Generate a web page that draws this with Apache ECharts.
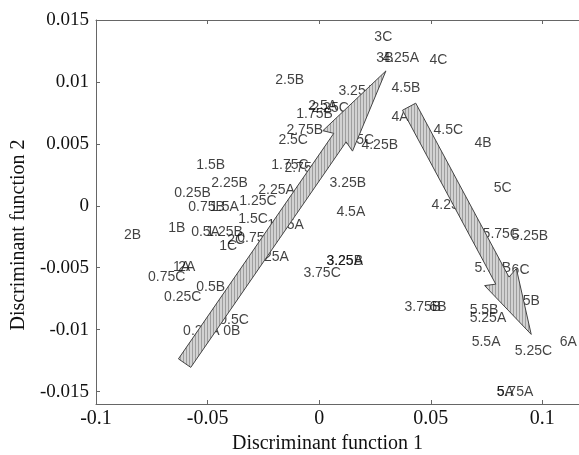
<!DOCTYPE html>
<html>
<head>
<meta charset="utf-8">
<script src="https://cdn.jsdelivr.net/npm/echarts@6/dist/echarts.min.js"></script>
<style>html,body{margin:0;background:#fff}#main{width:579px;height:455px}</style>
</head>
<body>
<div id="main"></div>
<script>
// sample labels (left edge of each label = point)
var pointLabels = ['2.5B', '1.75B', '2.5A', '2.25C', '2.75B', '2.5C', '1.75C', '2.75A', '1.5B', '2.25B',
    '0.25B', '2.25A', '1.25C', '0.75B', '1.5A', '1.5C', '1.75A', '1B', '2B', '0.5A',
    '1.25B', '1C', '2C', '0.75A', '1.25A', '1A', '2A', '0.75C', '0.5B', '0.25C',
    '0.5C', '0.25A', '0B', '3C', '3B', '4.25A', '4C', '4.5B', '3.25A', '4A',
    '4.5C', '4B', '3.5C', '4.25B', '5C', '3.25B', '4.5A', '4.25C', '5.75C', '5.25B',
    '3.25A', '3.25B', '3.75C', '5.75B', '6C', '5B', '3.75B', '6B', '5.5B', '5.25A',
    '5.5A', '5.25C', '6A', '5A', '5.75A'];
var dfOne = [-0.0199, -0.0105, -0.0051, -0.0037, -0.0149, -0.0185, -0.0217, -0.0158, -0.0553, -0.0486,
    -0.0652, -0.0275, -0.0360, -0.0589, -0.0491, -0.0365, -0.0235, -0.0679, -0.0877, -0.0576,
    -0.0508, -0.0450, -0.0414, -0.0369, -0.0302, -0.0657, -0.0634, -0.0769, -0.0553, -0.0697,
    -0.0450, -0.0612, -0.0432, 0.0245, 0.0254, 0.0281, 0.0492, 0.0322, 0.0084, 0.0322,
    0.0510, 0.0694, 0.0111, 0.0187, 0.0780, 0.0044, 0.0075, 0.0501, 0.0730, 0.0860,
    0.0030, 0.0030, -0.0073, 0.0694, 0.0860, 0.0910, 0.0380, 0.0492, 0.0672, 0.0672,
    0.0681, 0.0874, 0.1076, 0.0793, 0.0793];
var dfTwo = [0.01017, 0.00744, 0.00808, 0.00792, 0.00608, 0.00527, 0.00327, 0.00303, 0.00327, 0.00182,
    0.00102, 0.00126, 0.00038, -0.0001, -0.0001, -0.00107, -0.00155, -0.00179, -0.00235, -0.00211,
    -0.00211, -0.00323, -0.00275, -0.00259, -0.00412, -0.00492, -0.00492, -0.00572, -0.00653, -0.00741,
    -0.00925, -0.01014, -0.01014, 0.01362, 0.01193, 0.01193, 0.01177, 0.00953, 0.00929, 0.00712,
    0.00608, 0.00503, 0.00527, 0.00487, 0.00142, 0.00182, -0.00051, 0.00006, -0.00227, -0.00243,
    -0.00444, -0.00444, -0.0054, -0.005, -0.00516, -0.00773, -0.00821, -0.00821, -0.00845, -0.00909,
    -0.01102, -0.01174, -0.01102, -0.01503, -0.01503];

// the two trend arrows (tail -> tip), in data units
var arrowTail = [[-0.0603, -0.0127], [0.0403, 0.0080]];
var arrowTip = [[0.0299, 0.01089], [0.0950, -0.01038]];
var arrowHead = [85, 65];

var xTicks = [-0.1, -0.05, 0, 0.05, 0.1];
var yTicks = [-0.015, -0.01, -0.005, 0, 0.005, 0.01, 0.015];

var chart = echarts.init(document.getElementById('main'));

var points = [];
for (var i = 0; i < pointLabels.length; i++) {
    points.push({ name: pointLabels[i], value: [dfOne[i], dfTwo[i]] });
}

var serif = 'Liberation Serif';
var axisColor = '#666';

function fmt(v) {
    return String(Number(v.toFixed(3)));
}

var option = {
    backgroundColor: '#fff',
    animation: false,
    grid: { left: 96, right: -8, top: 20, bottom: 51, outerBoundsMode: 'none', containLabel: false },
    xAxis: [{
        type: 'value', min: -0.1, max: 0.12,
        name: 'Discriminant function 1', nameLocation: 'middle', nameGap: 26,
        nameTextStyle: { fontFamily: serif, fontSize: 20, color: '#111', padding: [0, 28, 0, 0] },
        axisLine: { onZero: false, lineStyle: { color: axisColor } },
        axisTick: { inside: true, length: 4, customValues: xTicks, lineStyle: { color: axisColor } },
        axisLabel: { customValues: xTicks, formatter: fmt, fontFamily: serif, fontSize: 20, color: '#111', margin: 5 },
        splitLine: { show: false }
    }, {
        type: 'value', min: -0.1, max: 0.12, position: 'top',
        axisLine: { onZero: false, lineStyle: { color: axisColor } },
        axisTick: { inside: true, length: 4, customValues: xTicks, lineStyle: { color: axisColor } },
        axisLabel: { show: false },
        splitLine: { show: false }
    }],
    yAxis: {
        type: 'value', min: -0.016, max: 0.015,
        name: 'Discriminant function 2', nameLocation: 'middle', nameGap: 54,
        nameTextStyle: { fontFamily: serif, fontSize: 20, color: '#111', padding: [0, 46, 0, 0] },
        axisLine: { show: true, onZero: false, lineStyle: { color: axisColor } },
        axisTick: { show: true, inside: true, length: 4, customValues: yTicks, lineStyle: { color: axisColor } },
        axisLabel: { customValues: yTicks, formatter: fmt, fontFamily: serif, fontSize: 19, color: '#111', margin: 7 },
        splitLine: { show: false }
    },
    series: [{
        type: 'scatter',
        data: points,
        symbolSize: 1,
        itemStyle: { color: 'rgba(0,0,0,0)' },
        label: {
            show: true, position: 'right', distance: 0,
            formatter: '{b}',
            fontFamily: 'Liberation Sans', fontSize: 14, color: '#111'
        },
        labelLayout: { hideOverlap: false }
    }]
};
chart.setOption(option);

// hatched fill for the arrows
var hatch = document.createElement('canvas');
hatch.width = 3;
hatch.height = 3;
var hctx = hatch.getContext('2d');
hctx.fillStyle = '#d2d2d2';
hctx.fillRect(0, 0, 3, 3);
hctx.fillStyle = '#9e9e9e';
hctx.fillRect(0, 0, 1, 3);

function arrowShape(tail, tip, headLen) {
    var a = chart.convertToPixel({ xAxisIndex: 0, yAxisIndex: 0 }, tail);
    var b = chart.convertToPixel({ xAxisIndex: 0, yAxisIndex: 0 }, tip);
    var dx = b[0] - a[0], dy = b[1] - a[1];
    var len = Math.sqrt(dx * dx + dy * dy);
    var ux = dx / len, uy = dy / len;
    var nx = -uy, ny = ux;
    var sw = 7.5, hw = 18;
    var base = len - headLen;
    var joint = base + 4;
    function at(d, w) {
        return [a[0] + ux * d + nx * w, a[1] + uy * d + ny * w];
    }
    return [at(0, sw), at(joint, sw), at(base, hw), b, at(base, -hw), at(joint, -sw), at(0, -sw)];
}

var arrows = [];
for (var k = 0; k < arrowTail.length; k++) {
    arrows.push({
        type: 'polygon',
        z: 100,
        shape: { points: arrowShape(arrowTail[k], arrowTip[k], arrowHead[k]) },
        style: { fill: { image: hatch, repeat: 'repeat' }, stroke: '#444', lineWidth: 1 }
    });
}
chart.setOption({ graphic: arrows });
</script>
</body>
</html>
